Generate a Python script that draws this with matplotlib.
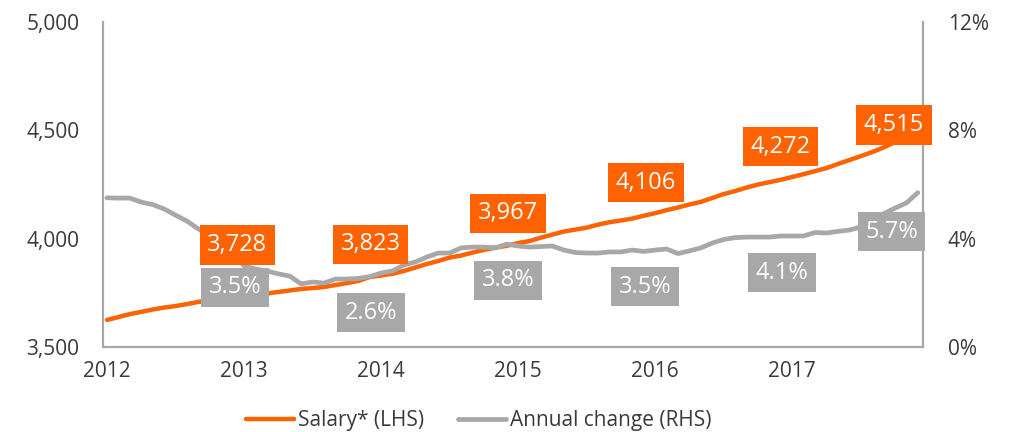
import matplotlib.pyplot as plt
import numpy as np

plt.rcParams['font.family'] = ['Open Sans', 'DejaVu Sans']

years = ['2012', '2013', '2014', '2015', '2016', '2017']

# monthly average salary, Jan 2012 - Dec 2017
salary = [3625, 3638, 3652, 3662, 3673, 3682, 3689, 3698, 3708, 3717, 3722, 3728,
          3731, 3740, 3747, 3754, 3761, 3768, 3772, 3777, 3786, 3795, 3805, 3823,
          3830, 3838, 3851, 3867, 3883, 3897, 3913, 3922, 3936, 3948, 3959, 3967,
          3980, 3989, 4005, 4019, 4033, 4042, 4051, 4065, 4076, 4084, 4093, 4106,
          4118, 4132, 4144, 4158, 4170, 4188, 4206, 4220, 4236, 4250, 4261, 4272,
          4285, 4298, 4312, 4326, 4345, 4363, 4381, 4400, 4421, 4446, 4474, 4515]

# annual change, %
change = [5.51, 5.50, 5.50, 5.35, 5.26, 5.10, 4.87, 4.65, 4.36, 4.10, 3.80, 3.50,
          2.99, 2.88, 2.81, 2.70, 2.62, 2.33, 2.40, 2.36, 2.51, 2.51, 2.53, 2.60,
          2.73, 2.81, 3.03, 3.14, 3.32, 3.47, 3.47, 3.66, 3.69, 3.69, 3.66, 3.80,
          3.73, 3.69, 3.71, 3.73, 3.58, 3.49, 3.47, 3.47, 3.51, 3.51, 3.58, 3.53,
          3.58, 3.62, 3.45, 3.55, 3.66, 3.84, 3.97, 4.04, 4.06, 4.06, 4.06, 4.10,
          4.10, 4.10, 4.23, 4.21, 4.27, 4.32, 4.43, 4.65, 4.92, 5.13, 5.32, 5.70]

salary_labels = ['3,728', '3,823', '3,967', '4,106', '4,272', '4,515']
change_labels = ['3.5%', '2.6%', '3.8%', '3.5%', '4.1%', '5.7%']

# label placement (month index, value on own axis)
salary_lab_x = [11.4, 23.1, 35.1, 47.2, 59.0, 68.9]
salary_lab_y = [3971, 3975, 4118, 4259, 4425, 4525]
change_lab_x = [11.2, 23.1, 35.1, 47.1, 59.1, 68.7]
change_lab_y = [2.20, 1.27, 2.46, 2.23, 2.74, 4.25]

orange = '#FF6200'
grey = '#A8A8A8'
axis_grey = '#A6A6A6'
txt = '#3a3a3a'

months = np.arange(len(salary))

fig = plt.figure(figsize=(10.23, 4.32), dpi=100)
ax = fig.add_axes([0.1007, 0.1968, 0.8015, 0.752])
ax2 = ax.twinx()

ax.plot(months, salary, color=orange, lw=3.2, solid_capstyle='round', label='Salary* (LHS)')
ax2.plot(months, change, color=grey, lw=3.4, solid_capstyle='round', label='Annual change (RHS)')

ax.set_xlim(-0.35, 71.45)
ax.set_ylim(3500, 5000)
ax2.set_ylim(0, 12)
ax.set_yticks([3500, 4000, 4500, 5000])
ax.set_yticklabels(['3,500', '4,000', '4,500', '5,000'])
ax2.set_yticks([0, 4, 8, 12])
ax2.set_yticklabels(['0%', '4%', '8%', '12%'])
ax.set_xticks(months[::12])
ax.set_xticklabels(years)

for a in (ax, ax2):
    a.spines['top'].set_visible(False)
    for s in ('left', 'right', 'bottom'):
        a.spines[s].set_color(axis_grey)
        a.spines[s].set_linewidth(1.5)
    a.tick_params(length=0, labelsize=15, colors=txt)
ax.tick_params(axis='y', pad=17)
ax2.tick_params(axis='y', pad=18)
ax.tick_params(axis='x', pad=10)

for x, y, s in zip(salary_lab_x, salary_lab_y, salary_labels):
    ax2.text(x, y, s, transform=ax.transData, ha='center', va='center',
             fontsize=17, color='white', zorder=10,
             bbox=dict(boxstyle='square,pad=0.32', fc=orange, ec='none'))
for x, y, s in zip(change_lab_x, change_lab_y, change_labels):
    ax2.text(x, y, s, ha='center', va='center',
             fontsize=17, color='white', zorder=10,
             bbox=dict(boxstyle='square,pad=0.32', fc=grey, ec='none'))

h1, l1 = ax.get_legend_handles_labels()
h2, l2 = ax2.get_legend_handles_labels()
fig.legend(h1 + h2, l1 + l2, loc='center', bbox_to_anchor=(0.468, 0.026), ncol=2,
           frameon=False, fontsize=15, handlelength=2.3, handletextpad=0.2,
           columnspacing=1.6, labelcolor=txt)

fig.savefig('out.png', dpi=100)
